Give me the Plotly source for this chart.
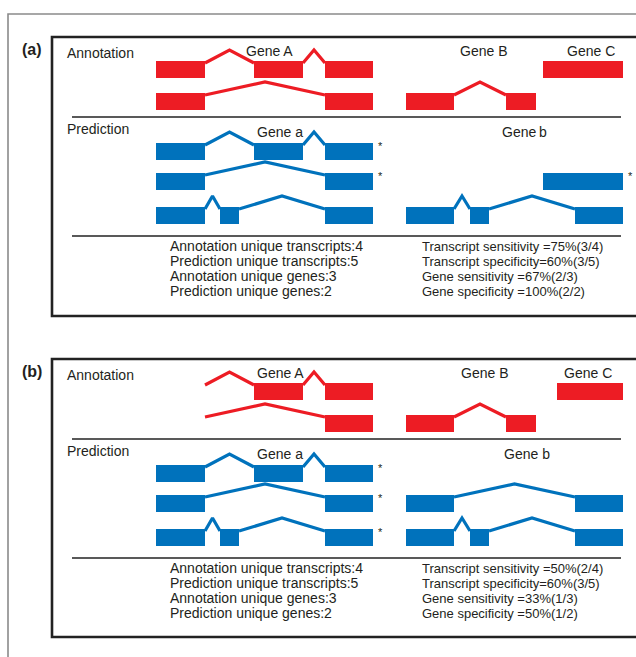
import plotly.graph_objects as go

RED = "#ED1C24"
BLUE = "#0072BC"
INK = "#231F20"
FONT = "Liberation Sans, Arial, sans-serif"

# ---- transcript models (genomic coordinates of exons / introns) ----
A_FULL_EXONS = [(156, 205), (254, 303), (325, 373)]
A_FULL_INTRONS = [(205, 254), (303, 325)]
A_SKIP_EXONS = [(156, 205), (325, 373)]
A_SKIP_INTRONS = [(205, 325)]
A_ALT_EXONS = [(156, 205), (220, 239), (325, 373)]
A_ALT_INTRONS = [(205, 220), (239, 325)]
A_NOFIRST_EXONS = [(254, 303), (325, 373)]
A_NOFIRST_SKIP_EXONS = [(325, 373)]

B_EXONS = [(406, 454), (506, 536)]
B_INTRONS = [(454, 506)]
B_ALT_EXONS = [(406, 454), (470, 489), (575, 623)]
B_ALT_INTRONS = [(454, 470), (489, 575)]
B_SKIP_EXONS = [(406, 454), (575, 623)]
B_SKIP_INTRONS = [(454, 575)]

C_EXONS_A = [(543, 623)]
C_EXONS_B = [(557, 623)]

# (row, exons, introns, colour, starred)
PANEL_A_TRACKS = [
    (0, A_FULL_EXONS, A_FULL_INTRONS, RED, False),
    (1, A_SKIP_EXONS, A_SKIP_INTRONS, RED, False),
    (1, B_EXONS, B_INTRONS, RED, False),
    (0, C_EXONS_A, [], RED, False),
    (2, A_FULL_EXONS, A_FULL_INTRONS, BLUE, True),
    (3, A_SKIP_EXONS, A_SKIP_INTRONS, BLUE, True),
    (4, A_ALT_EXONS, A_ALT_INTRONS, BLUE, False),
    (3, C_EXONS_A, [], BLUE, True),
    (4, B_ALT_EXONS, B_ALT_INTRONS, BLUE, False),
]
PANEL_B_TRACKS = [
    (0, A_NOFIRST_EXONS, A_FULL_INTRONS, RED, False),
    (1, A_NOFIRST_SKIP_EXONS, A_SKIP_INTRONS, RED, False),
    (1, B_EXONS, B_INTRONS, RED, False),
    (0, C_EXONS_B, [], RED, False),
    (2, A_FULL_EXONS, A_FULL_INTRONS, BLUE, True),
    (3, A_SKIP_EXONS, A_SKIP_INTRONS, BLUE, True),
    (4, A_ALT_EXONS, A_ALT_INTRONS, BLUE, True),
    (3, B_SKIP_EXONS, B_SKIP_INTRONS, BLUE, False),
    (4, B_ALT_EXONS, B_ALT_INTRONS, BLUE, False),
]

PANEL_A_GENES = [("Gene A", 269, 0), ("Gene B", 483, 0), ("Gene C", 591, 0),
                 ("Gene a", 280, 1), ("Gene\u2009b", 524, 1)]
PANEL_B_GENES = [("Gene A", 280, 0), ("Gene B", 484, 0), ("Gene C", 588, 0),
                 ("Gene a", 280, 1), ("Gene b", 527, 1)]

COUNTS = ["Annotation unique transcripts:4", "Prediction unique transcripts:5",
          "Annotation unique genes:3", "Prediction unique genes:2"]
PANEL_A_STATS = ["Transcript sensitivity =75%(3/4)", "Transcript specificity=60%(3/5)",
                 "Gene sensitivity =67%(2/3)", "Gene specificity =100%(2/2)"]
PANEL_B_STATS = ["Transcript sensitivity =50%(2/4)", "Transcript specificity=60%(3/5)",
                 "Gene sensitivity =33%(1/3)", "Gene specificity =50%(1/2)"]

PANELS = [("(a)", 37, 316, PANEL_A_TRACKS, PANEL_A_GENES, PANEL_A_STATS),
          ("(b)", 359, 637, PANEL_B_TRACKS, PANEL_B_GENES, PANEL_B_STATS)]

# ---- layout constants ----
ROW_TOP = [24, 56, 106, 136, 170]   # exon top offset within a panel
EXON_H = 17
RISE = 11
LINE_GAP = 15
W, H = 636, 657

fig = go.Figure()
shapes = []
annotations = []

def text(x, y, s, size=14, anchor="left", bold=False):
    annotations.append(dict(
        x=x, y=y, xref="x", yref="y", text=f"<b>{s}</b>" if bold else s,
        showarrow=False, xanchor=anchor, yanchor="middle",
        font=dict(family=FONT, size=size, color=INK)))

# outer frame
shapes.append(dict(type="path", path=f"M 8 {H+5} L 8 14 L {W+5} 14",
                   xref="x", yref="y", line=dict(color="#8a8a8a", width=1.6)))

for label, top, bottom, tracks, genes, stats in PANELS:
    shapes.append(dict(type="rect", x0=52, x1=W + 10, y0=top, y1=bottom,
                       xref="x", yref="y", line=dict(color="#222222", width=2.6)))
    for sy in (80, 199):
        shapes.append(dict(type="line", x0=72, x1=621, y0=top + sy, y1=top + sy,
                           xref="x", yref="y", line=dict(color="#222222", width=1.3)))
    text(20, top + 12, label, size=16, bold=True)
    text(65, top + 16, "Annotation")
    text(65, top + 92, "Prediction")
    for g, gx, row in genes:
        text(gx, top + (14 if row == 0 else 95), g, anchor="center")

    for row, exons, introns, color, star in tracks:
        y0 = top + ROW_TOP[row]
        for s, e in introns:
            fig.add_trace(go.Scatter(
                x=[s, (s + e) / 2, e], y=[y0 + 2, y0 - RISE, y0 + 2],
                mode="lines", line=dict(color=color, width=3.2),
                hoverinfo="skip", showlegend=False))
        for s, e in exons:
            shapes.append(dict(type="rect", x0=s, x1=e, y0=y0, y1=y0 + EXON_H,
                               xref="x", yref="y", fillcolor=color,
                               line=dict(width=0)))
        if star:
            end = max(e for _, e in exons)
            text(end + 3, y0 + 3, "*", size=11)

    for i, (c, st) in enumerate(zip(COUNTS, stats)):
        yy = top + 209 + LINE_GAP * i
        text(168, yy, c, size=14)
        text(420, yy, st, size=13)

fig.update_layout(
    width=W, height=H, margin=dict(l=0, r=0, t=0, b=0),
    paper_bgcolor="white", plot_bgcolor="white",
    xaxis=dict(range=[0, W], visible=False, fixedrange=True),
    yaxis=dict(range=[H, 0], visible=False, fixedrange=True),
    shapes=shapes, annotations=annotations, showlegend=False,
)
fig.write_html("out.html")
